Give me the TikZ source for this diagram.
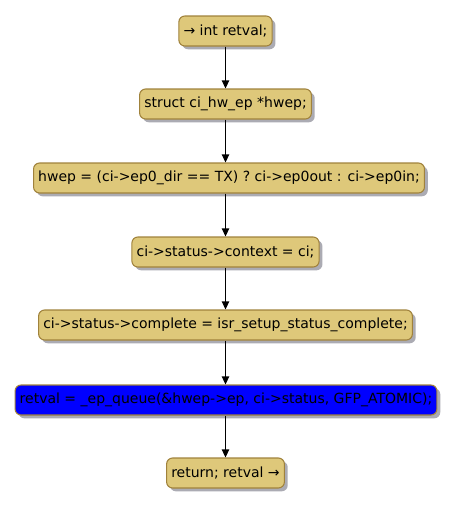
\documentclass[tikz,border=0pt]{standalone}
\usepackage{fontspec}
\setmainfont{DejaVu Sans}
\usetikzlibrary{arrows.meta,shadows}
\definecolor{actfill}{RGB}{222,200,122}
\definecolor{actline}{RGB}{160,130,60}
\definecolor{shadowgray}{RGB}{150,150,160}
\begin{document}
\begin{tikzpicture}[x=0.75pt,y=-0.75pt,
  act/.style={draw=actline, fill=actfill, line width=0.8pt, rounded corners=4.5pt,
    minimum height=22.5pt, inner xsep=3.5pt, font=\fontsize{10.5}{12}\selectfont,
    drop shadow={shadow xshift=2.5pt, shadow yshift=-2.5pt, fill=shadowgray, opacity=0.8}},
  flow/.style={-{Triangle[length=6pt,width=5.5pt]}, line width=0.8pt}]
\useasboundingbox (0,0) rectangle (452,507);
\node[act] (n1) at (225.5,31) {→ int retval;};
\node[act] (n2) at (225.5,104) {struct ci\_hw\_ep *hwep;};
\node[act] (n3) at (229,178) {hwep = (ci->ep0\_dir == TX) ? ci->ep0out : ci->ep0in;};
\node[act] (n4) at (225.5,252) {ci->status->context = ci;};
\node[act] (n5) at (225.5,325) {ci->status->complete = isr\_setup\_status\_complete;};
\node[act, fill=blue] (n6) at (226,400) {retval = \_ep\_queue(\&hwep->ep, ci->status, GFP\_ATOMIC);};
\node[act] (n7) at (225.5,473) {return; retval →};
\draw[flow] (n1) -- (n2);
\draw[flow] (n2) -- (n2 |- n3.north);
\draw[flow] (n2 |- n3.south) -- (n4);
\draw[flow] (n4) -- (n5);
\draw[flow] (n5) -- (n5 |- n6.north);
\draw[flow] (n5 |- n6.south) -- (n7);
\end{tikzpicture}
\end{document}
